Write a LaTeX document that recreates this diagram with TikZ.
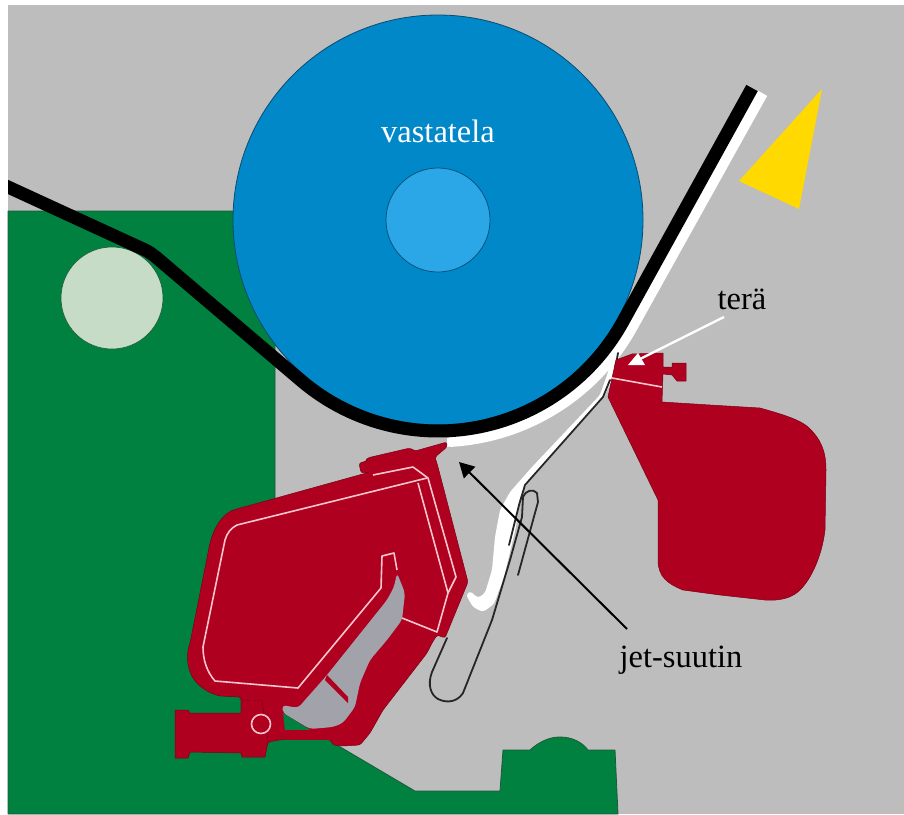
\documentclass[tikz,border=0pt]{standalone}
\usepackage{fontspec}
\setmainfont{Liberation Serif}
\usetikzlibrary{arrows.meta}
\definecolor{bggrey}{HTML}{BDBDBD}
\definecolor{frame}{HTML}{008140}
\definecolor{framedark}{HTML}{1F5A38}
\definecolor{roll}{HTML}{C6DCC6}
\definecolor{drum}{HTML}{0088C8}
\definecolor{hub}{HTML}{2BA6E6}
\definecolor{drumedge}{HTML}{0B4A72}
\definecolor{redpart}{HTML}{B0001F}
\definecolor{window}{HTML}{A2A2AA}
\definecolor{bladelight}{HTML}{F6C6CC}
\definecolor{lamp}{HTML}{FFD900}
\tikzset{
  framepart/.style={fill=frame,draw=framedark,line width=0.8pt,line join=round},
  redshape/.style={fill=redpart,draw=redpart!70!black,line width=0.5pt,line join=round},
  lightline/.style={draw=bladelight,line width=1.6pt,line join=round},
  thinwall/.style={draw=black!85,line width=1.8pt,line join=round,line cap=round},
  caption/.style={font=\fontsize{32.5}{36}\selectfont,inner sep=0pt},
}
\begin{document}
\begin{tikzpicture}[x=1pt,y=-1pt]
\useasboundingbox (0,0) rectangle (904,814);
\fill[bggrey] (8,5) rectangle (904,814);
% green frame
\path[framepart] (8,211) -- (275,211) -- (275,690) -- (283,713) -- (337,745) -- (415,791) -- (500,791) -- (503,750) -- (530,750)
  .. controls (540,741) and (550,737) .. (560,737) .. controls (572,737) and (582,742) .. (588,750)
  -- (615,750) -- (618,814) -- (8,814) -- cycle;
\node[circle,fill=roll,draw=framedark,line width=0.6pt,minimum size=102pt,inner sep=0pt] (idler) at (112,298) {};
% drum
\node[circle,fill=drum,draw=drumedge,line width=0.8pt,minimum size=410pt,inner sep=0pt] (backing) at (438,220) {};
\node[circle,fill=hub,draw=drumedge,line width=0.7pt,minimum size=104pt,inner sep=0pt] (shaft) at (438,220) {};
% coating
\draw[white,line width=10.5pt] plot[domain=87:28.7,samples=40] ({438+222*cos(\x)},{220+222*sin(\x)}) -- (762.6,93.3);
\fill[white,rounded corners=3pt] (614,350) -- (608,372) -- (600,395) -- (532,467) -- (510,492) -- (500,510) -- (495,537) -- (492,570) -- (485,593) -- (478,598) -- (470,591) -- (466,595)
  -- (473,607) -- (483,612) -- (494,604) -- (504,577) -- (516,527) -- (519,500) -- (526,485) -- (604,397) -- (614,376) -- cycle;
\fill[white] (447,438) -- (462,437) -- (462,444) -- (447,447) -- cycle;
% web
\begin{scope}
\clip (8,5) rectangle (904,814);
\draw[black,line width=13pt,line join=round] (0,183.3) -- (143,249) .. controls (150,252) and (153,255) .. (157,258) -- plot[domain=130.5:28.7,samples=60] ({438+211*cos(\x)},{220+211*sin(\x)}) -- (752,88);
\end{scope}
% pan walls
\draw[thinwall] (447,638) -- (432,672) .. controls (427,685) and (431,695) .. (438,699) .. controls (448,704) and (458,701) .. (463,693)
  -- (492,620) -- (510,560) -- (522,517) -- (523,497) .. controls (525,491) and (533,488) .. (537,493) -- (538,502) -- (518,575);
\draw[thinwall] (610,380) -- (603,397) -- (525,485) -- (519,505) -- (509,545);
\draw[thinwall] (618,353) -- (614,376);
% left applicator
\path[redshape,rounded corners=2.5pt] (359,463) -- (367,461) -- (367,458) -- (410,448) -- (415,451) -- (447,442) -- (447,447) -- (435,457) -- (438,467) -- (468,582) -- (445,638) -- (437,635) -- (432,643) -- (427,653)
  -- (383,710) -- (370,733) -- (360,745) -- (343,746) -- (333,745) -- (330,739) -- (285,739) -- (268,742) -- (265,750) -- (242,750) -- (241,745) -- (241,713) -- (241,697)
  -- (220,696) .. controls (205,692) and (195,683) .. (190,672) .. controls (187,662) and (187,652) .. (190,643) -- (208,553) .. controls (211,535) and (218,518) .. (233,510) -- (370,472) -- (361,473) -- cycle;
\path[redshape] (175,710) -- (188,710) -- (190,713) -- (241,713) -- (241,700) -- (262,700) -- (268,742) -- (265,757) -- (242,757) -- (241,753) -- (190,752) -- (188,758) -- (175,758) -- cycle;
\fill[window,rounded corners=4pt] (397,573) -- (405,593) -- (402,620) -- (387,640) -- (370,660) -- (360,683) -- (355,707) -- (343,723) -- (333,727) -- (310,729) -- (283,713) -- (282,705) -- (298,708) -- (327,675) -- (387,600) -- (394,587) -- cycle;
\fill[frame] (283,713) -- (285,731) -- (312,731) -- cycle;
\fill[redpart] (285,730) -- (333,730) -- (333,740) -- (285,740) -- cycle;
\fill[redpart] (327,675) -- (348,697) -- (348,703) -- (325,680) -- cycle;
\path[lightline] (427,478) -- (237,525) .. controls (231,528) and (227,533) .. (225,540) -- (203,647) .. controls (203,660) and (207,672) .. (215,681) -- (298,688) -- (381,588) -- (382,556) -- (394,553) -- (397,570);
\path[lightline] (418,483) -- (448,593) -- (437,632) -- (402,618);
\path[lightline] (373,475) -- (413,467) -- (428,478) -- (456,577) -- (448,593);
\node[circle,draw=bladelight,line width=1.6pt,fill=redpart,minimum size=19pt,inner sep=0pt] (pivot) at (261,724) {};
% blade holder
\path[redshape] (612,378) -- (616,360) -- (632,354) -- (663,353) -- (663,367) -- (672,367) -- (672,363) -- (686,363) -- (686,381) -- (677,381) -- (672,375) -- (663,374) -- (662,402) -- (710,405) -- (760,408)
  .. controls (785,415) and (800,420) .. (808,427) .. controls (820,438) and (826,450) .. (826,470) -- (825,530) .. controls (822,555) and (812,578) .. (800,590) .. controls (792,598) and (780,601) .. (765,600) -- (720,595) -- (683,590)
  .. controls (668,584) and (658,577) .. (658,560) -- (658,500) -- (608,397) -- cycle;
\path[lightline] (612,378) -- (662,387);
% lamp
\fill[lamp] (822,89) -- (739,181) -- (799,209) -- cycle;
% labels
\node[caption,text=white] (lblroll) at (438,131) {vastatela};
\node[caption] (lblblade) at (742,299) {terä};
\node[caption] (lbljet) at (681,660) {jet-suutin};
\coordinate (bladetip) at (636,361);
\coordinate (bladetail) at (724,317);
\coordinate (jettip) at (459,462);
\coordinate (jettail) at (627,629);
\draw[white,line width=2.4pt] (bladetail) -- (bladetip);
\fill[white] (628,365) -- (638,353) -- (645,365) -- cycle;
\draw[black,line width=2pt,-{Triangle[length=15pt,width=16pt]}] (jettail) -- (jettip);
\end{tikzpicture}
\end{document}
